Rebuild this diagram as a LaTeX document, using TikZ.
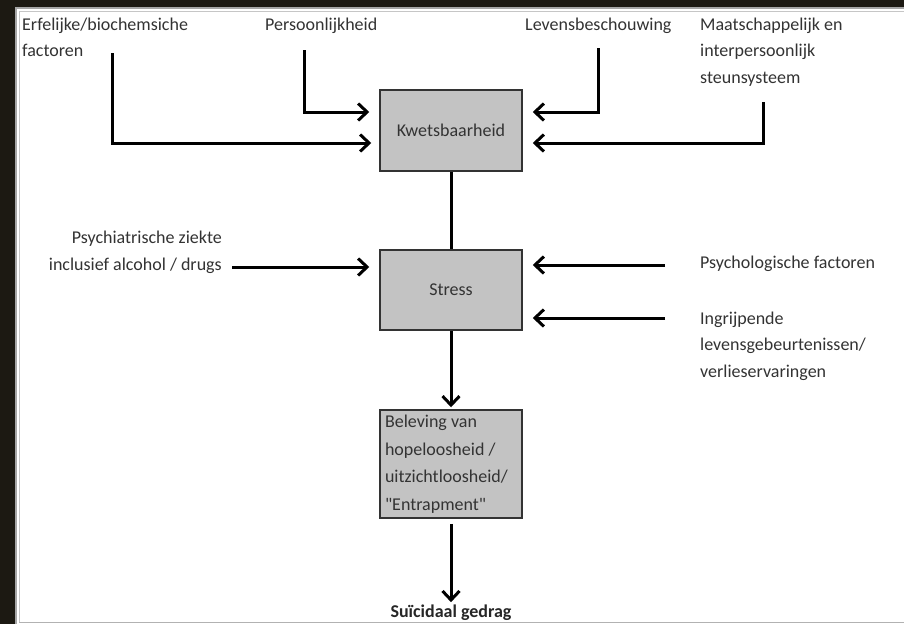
\documentclass[tikz,border=0pt]{standalone}
\usepackage{fontspec}
\setmainfont{Carlito}[Ligatures=TeXOff]
\usepackage{tikz}
\usetikzlibrary{calc,arrows.meta}

\definecolor{framedark}{HTML}{1C1912}
\definecolor{boxgray}{HTML}{C3C3C3}
\definecolor{txtgray}{HTML}{333333}

\tikzset{
  lbl/.style={inner sep=0pt, align=left, text=txtgray, font=\fontsize{18}{26.5}\selectfont},
  factorbox/.style={draw=black!80, line width=1.5pt, fill=boxgray, text=txtgray,
    minimum width=142pt, font=\fontsize{18}{26.5}\selectfont},
  arr/.style={-{Straight Barb[length=9pt,width=17pt]}, line width=3pt},
}

\begin{document}
\begin{tikzpicture}[x=1pt,y=-1pt]
  \useasboundingbox (0,0) rectangle (904,624);
  % frame
  \fill[framedark] (0,0) rectangle (904,624);
  \fill[white] (15,7) rectangle (904,624);
  \draw[gray!70, line width=1.2pt] (16,624) |- (904,8);
  \draw[gray!45, line width=0.8pt] (19,622) |- (904,11);
  \draw[gray!60, line width=1.5pt] (19,622.5) -- (904,622.5);

  % boxes
  \node[factorbox, minimum height=81pt] (kwet) at (451,130.5) {Kwetsbaarheid};
  \node[factorbox, minimum height=80pt] (stress) at (451,290) {Stress};
  \node[factorbox, minimum height=108pt, text width=132pt, align=flush left, inner sep=5pt,
    font=\fontsize{18}{27.5}\selectfont] (bel) at (451,464)
    {Beleving van\\hopeloosheid /\\uitzichtloosheid/\\"Entrapment"};
  \node[lbl, anchor=base, font=\fontsize{18}{26.5}\selectfont\bfseries, text=black!85] (suic) at (451,617) {Suïcidaal gedrag};

  % labels (base = last line)
  \node[lbl, anchor=base west] (erf) at (22,56.5) {Erfelijke/biochemsiche\\factoren};
  \node[lbl, anchor=base west] (pers) at (265,30) {Persoonlijkheid};
  \node[lbl, anchor=base west] (lev) at (525,30) {Levensbeschouwing};
  \node[lbl, anchor=base west] (maat) at (700,83) {Maatschappelijk en\\interpersoonlijk\\steunsysteem};
  \node[lbl, anchor=base east, align=right] (psych) at (222,270) {Psychiatrische ziekte\\inclusief alcohol / drugs};
  \node[lbl, anchor=base west] (psylog) at (700,268) {Psychologische factoren};
  \node[lbl, anchor=base west] (ingr) at (700,377) {Ingrijpende\\levensgebeurtenissen/\\verlieservaringen};

  % start points of the connectors
  \coordinate (erfstart) at (112,53);
  \coordinate (persstart) at (304,50);
  \coordinate (levstart) at (598,48);
  \coordinate (maatstart) at (763,102);
  \coordinate (psychstart) at (232,267);
  \coordinate (psylogstart) at (665,265);
  \coordinate (ingrstart) at (665,318);

  % connectors
  \draw[arr, shorten >=8pt] (erfstart) |- ($(kwet.west)+(0,12.5)$);
  \draw[arr, shorten >=10pt] (persstart) |- ($(kwet.west)+(0,-18.5)$);
  \draw[arr, shorten >=10pt] (levstart) |- ($(kwet.east)+(0,-18.5)$);
  \draw[arr, shorten >=10pt] (maatstart) |- ($(kwet.east)+(0,12.5)$);
  \draw[line width=3pt] (kwet.south) -- (stress.north);
  \draw[arr, shorten >=10pt] (psychstart) -- ($(stress.west)+(0,-23)$);
  \draw[arr, shorten >=10pt] (psylogstart) -- ($(stress.east)+(0,-25)$);
  \draw[arr, shorten >=10pt] (ingrstart) -- ($(stress.east)+(0,28)$);
  \draw[arr, shorten >=2pt] (stress.south) -- (bel.north);
  \draw[arr, shorten <=5pt, shorten >=2pt] (bel.south) -- (suic.north);
\end{tikzpicture}
\end{document}
